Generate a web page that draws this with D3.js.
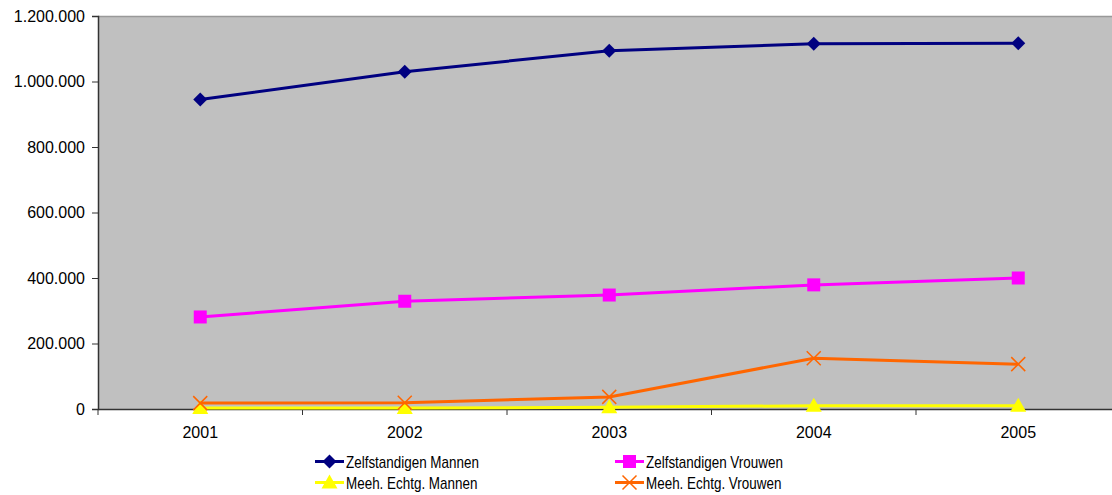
<!DOCTYPE html>
<meta charset="UTF-8">
<style>
body { margin: 0; background: #fff; }
text { font-family: "Liberation Sans", Arial, sans-serif; fill: #000; }
</style>
<body>
<div class="chart"></div>
<script src="https://d3js.org/d3.v7.min.js"></script>
<script>
var years = ["2001", "2002", "2003", "2004", "2005"];
var zelfMannen = [945000, 1030000, 1094000, 1115000, 1117000];
var zelfVrouwen = [281000, 329000, 348000, 379000, 400000];
var meehMannen = [3000, 3000, 5000, 10000, 10000];
var meehVrouwen = [18000, 19000, 37000, 155000, 137000];
var yTicks = [0, 200000, 400000, 600000, 800000, 1000000, 1200000];

var series = [
  { name: "Zelfstandigen Mannen", values: zelfMannen, color: "#000080", marker: "diamond" },
  { name: "Zelfstandigen Vrouwen", values: zelfVrouwen, color: "#FF00FF", marker: "square" },
  { name: "Meeh. Echtg. Mannen", values: meehMannen, color: "#FFFF00", marker: "triangle" },
  { name: "Meeh. Echtg. Vrouwen", values: meehVrouwen, color: "#FF6600", marker: "cross" }
];

var width = 1112, height = 495;
var plotL = 98, plotT = 16, plotW = 1022.5, plotH = 393;

var svg = d3.select(".chart").append("svg")
  .attr("width", width).attr("height", height);

var x = d3.scaleBand().domain(years).range([plotL, plotL + plotW]);
var y = d3.scaleLinear().domain([0, 1200000]).range([plotT + plotH, plotT]);

svg.append("rect")
  .attr("x", plotL).attr("y", plotT).attr("width", plotW).attr("height", plotH)
  .attr("fill", "#C0C0C0");
svg.append("line")
  .attr("x1", plotL).attr("x2", plotL + plotW).attr("y1", plotT + 0.5).attr("y2", plotT + 0.5)
  .attr("stroke", "#999").attr("stroke-width", 1.5);

var fmt = function (d) { return d3.format(",")(d).replace(/,/g, "."); };

var yAxis = svg.append("g")
  .attr("transform", "translate(" + plotL + ",0)")
  .call(d3.axisLeft(y).tickValues(yTicks).tickFormat(fmt).tickSize(6).tickPadding(7));
yAxis.select(".domain").attr("stroke", "#333").attr("stroke-width", 1.5);
yAxis.selectAll(".tick line").attr("stroke", "#333");
yAxis.selectAll("text").style("font-size", "16px").style("font-family", "Liberation Sans, Arial, sans-serif");

var xAxis = svg.append("g")
  .attr("transform", "translate(0," + (plotT + plotH) + ")")
  .call(d3.axisBottom(x).tickSize(0).tickPadding(18));
xAxis.select(".domain").attr("stroke", "#333").attr("stroke-width", 1.5);
xAxis.selectAll("text").style("font-size", "16px").style("font-family", "Liberation Sans, Arial, sans-serif");

// category separator ticks
svg.append("g").selectAll("line")
  .data(d3.range(years.length + 1))
  .join("line")
  .attr("x1", function (i) { return plotL + i * x.step(); })
  .attr("x2", function (i) { return plotL + i * x.step(); })
  .attr("y1", plotT + plotH).attr("y2", plotT + plotH + 6)
  .attr("stroke", "#333");

var cx = function (i) { return x(years[i]) + x.bandwidth() / 2; };

function drawMarker(g, type, color, px, py) {
  if (type === "diamond") {
    g.append("path").attr("d", "M" + px + "," + (py - 7) + "L" + (px + 7) + "," + py + "L" + px + "," + (py + 7) + "L" + (px - 7) + "," + py + "Z")
      .attr("fill", color);
  } else if (type === "square") {
    g.append("rect").attr("x", px - 6.5).attr("y", py - 6.5).attr("width", 13).attr("height", 13).attr("fill", color);
  } else if (type === "triangle") {
    g.append("path").attr("d", "M" + px + "," + (py - 8) + "L" + (px + 8) + "," + (py + 6) + "L" + (px - 8) + "," + (py + 6) + "Z")
      .attr("fill", color);
  } else {
    g.append("path").attr("d", "M" + (px - 7) + "," + (py - 7) + "L" + (px + 7) + "," + (py + 7) + "M" + (px + 7) + "," + (py - 7) + "L" + (px - 7) + "," + (py + 7))
      .attr("stroke", color).attr("stroke-width", 1.5).attr("fill", "none");
  }
}

var line = d3.line().x(function (d, i) { return cx(i); }).y(function (d) { return y(d); });

series.forEach(function (s) {
  var g = svg.append("g");
  g.append("path").datum(s.values).attr("d", line)
    .attr("fill", "none").attr("stroke", s.color).attr("stroke-width", 3);
  s.values.forEach(function (v, i) { drawMarker(g, s.marker, s.color, cx(i), y(v)); });
});

// legend
var legPos = [[315, 461.5], [615, 461.5], [315, 482.5], [615, 482.5]];
series.forEach(function (s, i) {
  var g = svg.append("g");
  var lx = legPos[i][0], ly = legPos[i][1];
  g.append("line").attr("x1", lx).attr("x2", lx + 29).attr("y1", ly).attr("y2", ly)
    .attr("stroke", s.color).attr("stroke-width", 3);
  drawMarker(g, s.marker, s.color, lx + 14.5, ly);
  g.append("text")
    .attr("transform", "translate(" + (lx + 31) + "," + (ly + 6.5) + ") scale(0.84,1)")
    .style("font-size", "16px").text(s.name);
});
</script>
</body>
